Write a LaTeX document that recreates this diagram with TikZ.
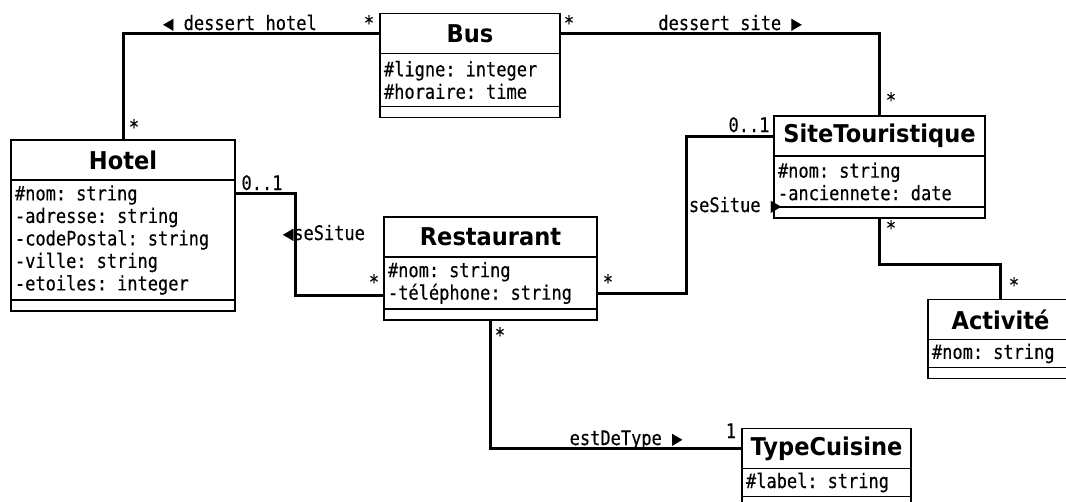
\documentclass[tikz,border=0pt]{standalone}
\usepackage{fontspec}
\newfontfamily\titlefont[FakeStretch=0.92]{DejaVu Sans}
\newfontfamily\umlmono[FakeStretch=0.85, FakeBold=0.3]{DejaVu Sans Mono}
\usetikzlibrary{
  positioning,
  calc
}

\begin{document}
\begin{tikzpicture}[
  x=1pt, y=-1pt,
  cname/.style={draw, line width=1.8pt, outer sep=0pt, inner sep=0pt,
                minimum height=40pt, font=\titlefont\bfseries\fontsize{24.5}{28}\selectfont},
  cattr/.style={draw, line width=1.8pt, outer sep=0pt, inner xsep=4pt, inner ysep=0pt,
                align=left, font=\umlmono\fontsize{20}{22.5}\selectfont},
  cops/.style={draw, line width=1.8pt, outer sep=0pt, inner sep=0pt, minimum height=11pt},
  assoc/.style={line width=3pt},
  mult/.style={font=\umlmono\fontsize{20}{22.5}\selectfont, inner sep=0pt, anchor=base}
]
\useasboundingbox (0,0) rectangle (1066,501);

% Classes
\node[cname, minimum width=224pt] (hotel) at (123, 160) {Hotel};
\node[cattr, text width=216pt, minimum height=120pt, below=0pt of hotel] (hotel-a)
  {\#nom: string\\-adresse: string\\-codePostal: string\\-ville: string\\-etoiles: integer};
\node[cops, minimum width=224pt, below=0pt of hotel-a] (hotel-o) {};

\node[cname, minimum width=180pt] (bus) at (470, 33.5) {Bus};
\node[cattr, text width=172pt, minimum height=53pt, below=0pt of bus] (bus-a)
  {\#ligne: integer\\\#horaire: time};
\node[cops, minimum width=180pt, below=0pt of bus-a] (bus-o) {};

\node[cname, minimum width=213pt] (resto) at (490.5, 237) {Restaurant};
\node[cattr, text width=205pt, minimum height=52pt, below=0pt of resto] (resto-a)
  {\#nom: string\\-téléphone: string};
\node[cops, minimum width=213pt, below=0pt of resto-a] (resto-o) {};

\node[cname, minimum width=211pt] (site) at (879.5, 136) {SiteTouristique};
\node[cattr, text width=203pt, minimum height=51pt, below=0pt of site] (site-a)
  {\#nom: string\\-anciennete: date};
\node[cops, minimum width=211pt, below=0pt of site-a] (site-o) {};

\node[cname, minimum width=145pt] (act) at (1000.5, 319.5) {Activité};
\node[cattr, text width=137pt, minimum height=28pt, below=0pt of act] (act-a)
  {\#nom: string};
\node[cops, minimum width=145pt, below=0pt of act-a] (act-o) {};

\node[cname, minimum width=169pt] (tc) at (826.5, 448.5) {TypeCuisine};
\node[cattr, text width=161pt, minimum height=28pt, below=0pt of tc] (tc-a)
  {\#label: string};
\node[cops, minimum width=169pt, below=0pt of tc-a] (tc-o) {};

% Associations
\draw[assoc] (hotel.north) |- (bus.west);
\draw[assoc] (bus.east) -| (site.north);
\draw[assoc] (site-o.south) -- ++(0,46) -| (act.north);
\draw[assoc] ([yshift=-13pt]hotel-a.north east) -- ++(60,0) |- ([yshift=-12pt]resto-a.west);
\draw[assoc] ([yshift=-10pt]resto-a.east) -- ++(89,0) |- (site.west);
\draw[assoc] (resto-o.south) |- (tc.west);

% Role names
\node[mult] (l-dhotel) at (240, 30) {◀ dessert hotel};
\node[mult] (l-dsite) at (730, 30) {dessert site ▶};
\node[mult] (l-situe1) at (324, 240) {◀seSitue};
\node[mult] (l-situe2) at (735, 212) {seSitue ▶};
\node[mult] (l-type) at (626, 445) {estDeType ▶};

% Multiplicities
\node[mult] (m-hotel-bus) at (134, 134) {*};
\node[mult] (m-bus-hotel) at (369, 30) {*};
\node[mult] (m-bus-site) at (569, 30) {*};
\node[mult] (m-site-bus) at (891, 107) {*};
\node[mult] (m-hotel-resto) at (262, 190) {0..1};
\node[mult] (m-resto-hotel) at (374, 289) {*};
\node[mult] (m-resto-site) at (608, 289) {*};
\node[mult] (m-site-resto) at (749, 132) {0..1};
\node[mult] (m-site-act) at (891, 235) {*};
\node[mult] (m-act-site) at (1014, 292) {*};
\node[mult] (m-resto-tc) at (500, 342) {*};
\node[mult] (m-tc-resto) at (731, 438) {1};

\end{tikzpicture}
\end{document}
